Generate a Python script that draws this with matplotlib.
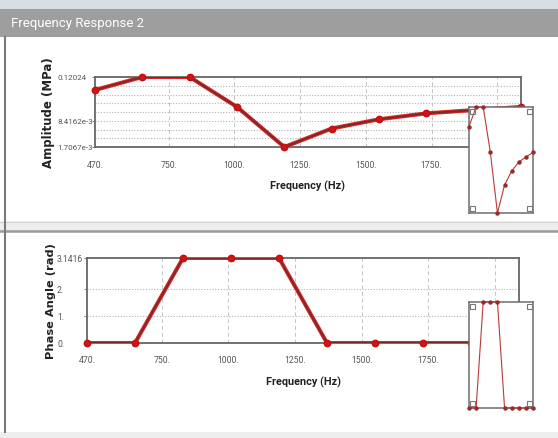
import matplotlib
matplotlib.use("Agg")
import matplotlib.pyplot as plt
from matplotlib.patches import Rectangle
import numpy as np

# Frequency sweep results
freq_hz = [470, 650, 830, 1010, 1190, 1370, 1550, 1730, 1910, 2090]
amplitude_mpa = [0.0546, 0.12024, 0.12024, 0.0195, 1.7067e-3, 5.25e-3, 9.2e-3, 0.0132, 0.0161, 0.0195]
phase_rad = [0.0, 0.0, 3.1416, 3.1416, 3.1416, 0.0, 0.0, 0.0, 0.0, 0.0]

x_ticks = [470, 750, 1000, 1250, 1500, 1750, 2000]
x_tick_labels = ["470.", "750.", "1000.", "1250.", "1500.", "1750.", "2000."]
amp_ticks = [0.12024, 8.4162e-3, 1.7067e-3]
amp_tick_labels = ["0.12024", "8.4162e-3", "1.7067e-3"]
phase_ticks = [3.1416, 2.0, 1.0, 0.0]
phase_tick_labels = ["3.1416", "2.", "1.", "0."]

title_text = "Frequency Response 2"
freq_label = "Frequency (Hz)"
amp_label = "Amplitude (MPa)"
phase_label = "Phase Angle (rad)"

W, H = 558, 439
fig = plt.figure(figsize=(W / 100, H / 100), dpi=100)
fig.patch.set_facecolor("white")

TEXT_FONT = ["Roboto", "DejaVu Sans"]
LABEL_FONT = ["DejaVu Sans"]
TICK_SIZE = 6.2


def px_axes(x0, y0, x1, y1, **kw):
    """Add axes from pixel box (x0, y0 top-left, x1, y1 bottom-right)."""
    return fig.add_axes([x0 / W, 1 - y1 / H, (x1 - x0) / W, (y1 - y0) / H], **kw)


# window chrome drawn in pixel space
bg = px_axes(0, 0, W, H, zorder=0)
bg.set_xlim(0, W)
bg.set_ylim(H, 0)
bg.axis("off")
bg.add_patch(Rectangle((0, 0), W, 10, color="#d9dee4", lw=0))
bg.add_patch(Rectangle((0, 10), W, 28, color="#9e9e9e", lw=0))
bg.text(11, 24, title_text, color="white", fontsize=9.5, va="center", ha="left",
        family=TEXT_FONT)
bg.add_patch(Rectangle((0, 222), W, 10, color="#eeeeee", lw=0))
bg.plot([0, W], [222.5, 222.5], color="#d4d4d4", lw=0.8)
bg.plot([0, W], [232, 232], color="#9a9a9a", lw=1.8)
bg.add_patch(Rectangle((0, 433), W, 6, color="#eeeeee", lw=0))
bg.plot([5, 5], [38, 433], color="#7a7a7a", lw=1.5)


def style_main(ax, ypad_px):
    ax.set_xlim(470, 2090)
    ax.set_xticks(x_ticks)
    ax.set_xticklabels(x_tick_labels, family=TEXT_FONT, fontsize=TICK_SIZE, color="#555555")
    for s in ax.spines.values():
        s.set_color("#666666")
        s.set_linewidth(1.3)
    ax.tick_params(axis="y", length=2.5, width=0.8, color="#888888",
                   pad=(ypad_px - 2.5 * 100 / 72) * 72 / 100)
    ax.tick_params(axis="x", length=0, pad=9)
    for x in x_ticks[1:]:
        ax.axvline(x, color="#c4c4c4", lw=0.7, ls=(0, (4, 3)), zorder=1)


def draw_series(ax, y):
    ax.plot(freq_hz, y, color="#e02424", lw=2.9, zorder=3, solid_capstyle="round")
    ax.plot(freq_hz, y, color="#7a2b2b", lw=1.4, zorder=4)
    ax.plot(freq_hz, y, ls="none", marker="o", ms=4.6, color="#d41414",
            mec="#c01010", zorder=5, clip_on=False)


def style_inset(ax):
    ax.set_xlim(470, 2090)
    ax.set_xticks([])
    ax.set_yticks([])
    ax.set_facecolor("white")
    for s in ax.spines.values():
        s.set_color("#6e6e6e")
        s.set_linewidth(1.1)
    sz_w, sz_h = 5 / 64, 5 / 106
    for (cx, cy) in [(0.02, 0.02), (0.98 - sz_w, 0.02), (0.02, 0.98 - sz_h), (0.98 - sz_w, 0.98 - sz_h)]:
        ax.add_patch(Rectangle((cx, cy), sz_w, sz_h, transform=ax.transAxes,
                               fill=False, ec="#777777", lw=0.8, zorder=6))


def draw_inset_series(ax, y):
    ax.plot(freq_hz, y, color="#b83a3a", lw=0.8, zorder=3, clip_on=False)
    ax.plot(freq_hz, y, ls="none", marker="o", ms=2.2, color="#9a2a2a", zorder=4,
            clip_on=False)


# ---------- amplitude ----------
ax1 = px_axes(95, 78, 521, 148, zorder=2)
style_main(ax1, 95 - 57)
ax1.set_yscale("log")
ax1.set_ylim(1.7067e-3, 0.12024)
ax1.set_yticks(amp_ticks)
ax1.set_yticklabels(amp_tick_labels, family=TEXT_FONT, fontsize=5.8, color="#555555")
ax1.yaxis.set_minor_locator(matplotlib.ticker.NullLocator())
for lbl in ax1.get_yticklabels():
    lbl.set_ha("left")
lo, hi = np.log10(1.7067e-3), np.log10(0.12024)
for v in np.linspace(lo, hi, 9)[1:-1]:
    ax1.axhline(10 ** v, color="#b4b4b4", lw=0.8, ls=(0, (1, 1.5)), zorder=1)
draw_series(ax1, amplitude_mpa)
ax1.set_xlabel(freq_label, family=TEXT_FONT, fontsize=7.8, fontweight="bold",
               color="#222222", labelpad=8)
ax1.set_ylabel(amp_label, family=LABEL_FONT, fontsize=8.5, fontweight="bold",
               color="#222222")
ax1.yaxis.set_label_coords((55 - 95) / 426, 0.5)

ins1 = px_axes(469, 108, 533, 214, zorder=10)
style_inset(ins1)
ins1.set_yscale("log")
ins1.set_ylim(1.7067e-3, 0.12024)
ins1.yaxis.set_minor_locator(matplotlib.ticker.NullLocator())
ins1.set_yticks([])
draw_inset_series(ins1, amplitude_mpa)

# ---------- phase ----------
ax2 = px_axes(87, 259, 519, 344, zorder=2)
style_main(ax2, 87 - 57)
ax2.set_ylim(0, 3.1416)
ax2.set_yticks(phase_ticks)
ax2.set_yticklabels(phase_tick_labels, family=TEXT_FONT, fontsize=TICK_SIZE, color="#555555")
for lbl in ax2.get_yticklabels():
    lbl.set_ha("left")
for v in phase_ticks[1:3]:
    ax2.axhline(v, color="#b4b4b4", lw=0.8, ls=(0, (1, 1.5)), zorder=1)
draw_series(ax2, phase_rad)
ax2.set_xlabel(freq_label, family=TEXT_FONT, fontsize=7.8, fontweight="bold",
               color="#222222", labelpad=8)
ax2.set_ylabel(phase_label, family=LABEL_FONT, fontsize=8.2, fontweight="bold",
               color="#222222")
ax2.yaxis.set_label_coords((56 - 87) / 432, 0.5)

ins2 = px_axes(469, 303, 533, 409, zorder=10)
style_inset(ins2)
ins2.set_ylim(0, 3.1416)
draw_inset_series(ins2, phase_rad)

fig.savefig("out.png", dpi=100, facecolor=fig.get_facecolor())
